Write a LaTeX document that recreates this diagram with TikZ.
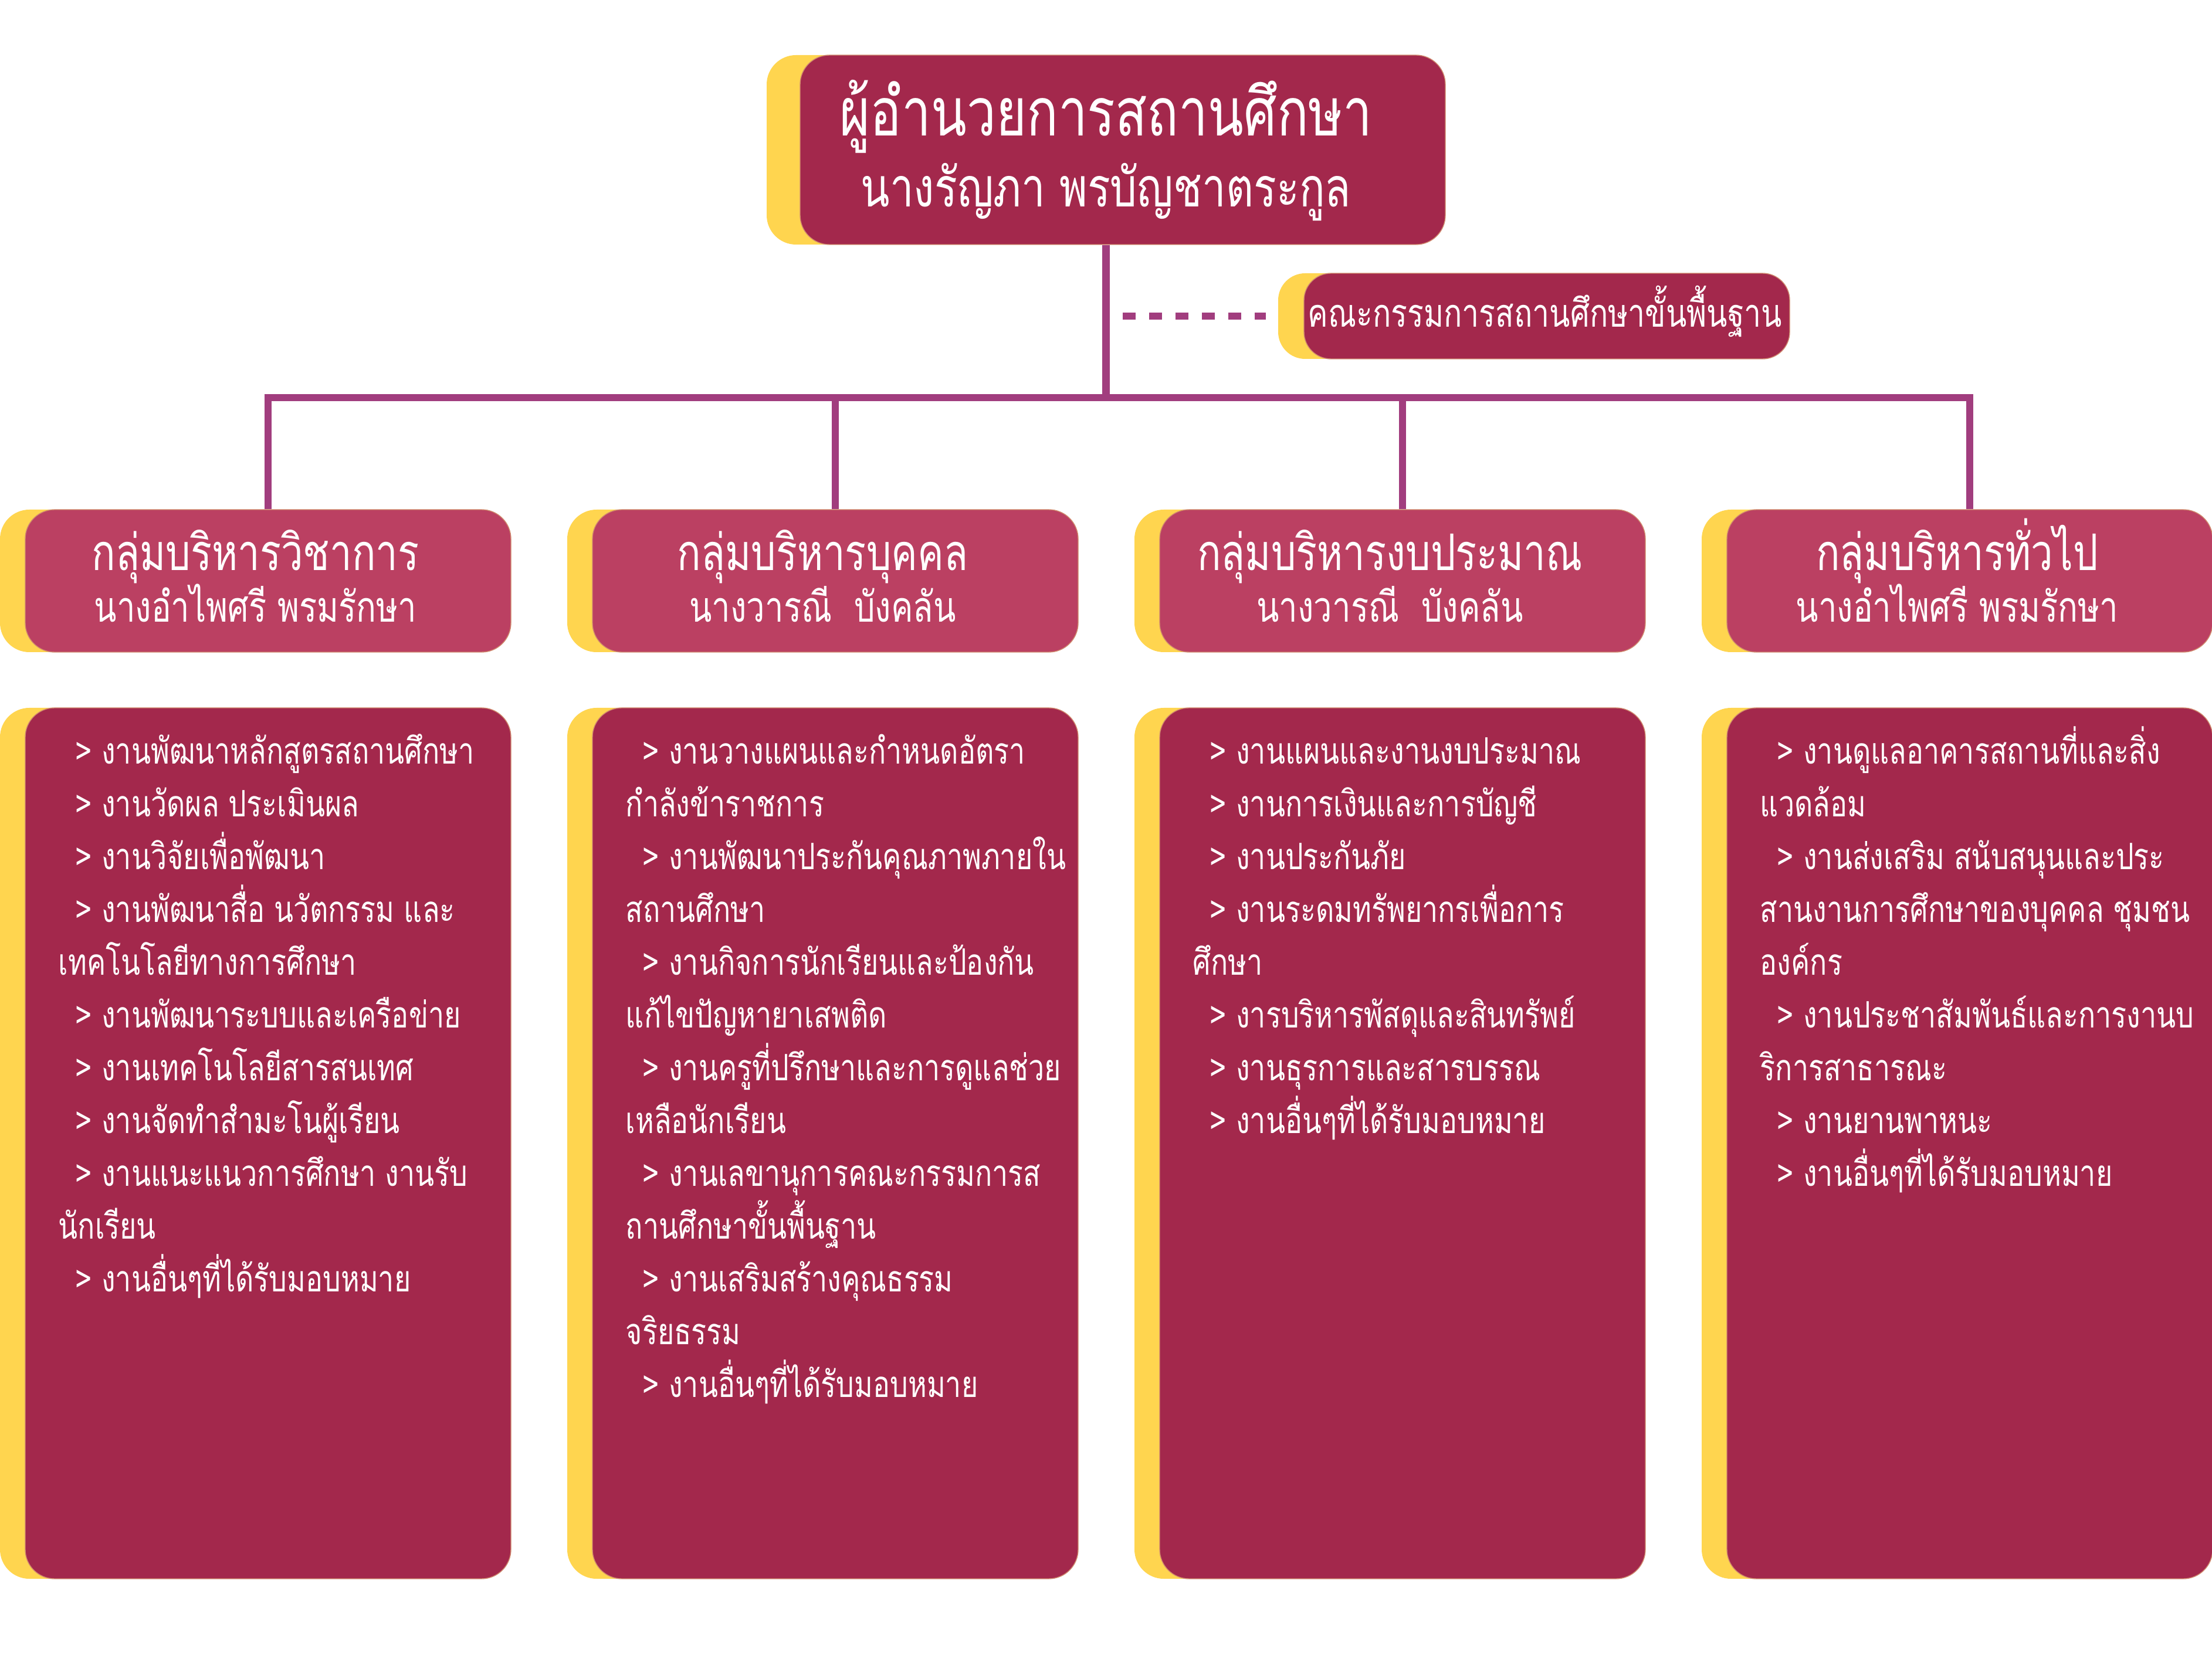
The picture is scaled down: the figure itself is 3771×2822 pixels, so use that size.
\documentclass[tikz,border=0pt]{standalone}
\usepackage{fontspec}
\newfontfamily\thai[Script=Thai,FakeStretch=0.78]{Loma}
\definecolor{wine}{HTML}{A3284C}
\definecolor{rose}{HTML}{BB4062}
\definecolor{gold}{HTML}{FFD54F}
\definecolor{plum}{HTML}{A13D7E}
\definecolor{edge}{HTML}{D08A6E}
\newcommand\gtitem{\hspace*{7.25pt}>\ }
\begin{document}
\begin{tikzpicture}[x=0.25pt,y=-0.25pt,
  ybox/.style={rectangle, rounded corners=12.5pt, fill=gold, draw=none, inner sep=0pt},
  mainbox/.style={rectangle, rounded corners=12.5pt, fill=wine, draw=edge, line width=0.35pt, inner sep=0pt},
  headbox/.style={mainbox, fill=rose},
  conn/.style={draw=plum, line width=3.15pt},
  dashline/.style={draw=plum, line width=2.9pt, dash pattern=on 5.5pt off 5.75pt},
  txt/.style={text=white, inner sep=0pt},
  bodytxt/.style={txt, anchor=north west, align=left, font=\thai\fontsize{15.5}{22.5}\selectfont},
  headA/.style={txt, anchor=base, font=\thai\fontsize{21.5}{24}\selectfont},
  headB/.style={txt, anchor=base, font=\thai\fontsize{18}{20}\selectfont}
]
\useasboundingbox (0,0) rectangle (3771,2822);

% top box
\node[ybox, minimum width=289.25pt, minimum height=80.75pt] (topY) at (1885.5,255.5) {};
\node[mainbox, minimum width=275pt, minimum height=80.75pt] (topM) at (1914,255.5) {};
\node[txt, anchor=base, font=\thai\fontsize{28.5}{30}\selectfont] (topT1) at (1885.5,232) {ผู้อำนวยการสถานศึกษา};
\node[txt, anchor=base, font=\thai\fontsize{23.2}{26}\selectfont] (topT2) at (1885.5,353) {นางรัญภา พรบัญชาตระกูล};

% committee
\node[ybox, rounded corners=11.5pt, minimum width=218pt, minimum height=36.5pt] (comY) at (2615,539) {};
\node[mainbox, rounded corners=11.5pt, minimum width=207pt, minimum height=36.5pt] (comM) at (2637,539) {};
\node[txt, anchor=base, font=\thai\fontsize{16.6}{18}\selectfont] (comT) at (2634,558) {คณะกรรมการสถานศึกษาขั้นพื้นฐาน};

% headers and content boxes
\foreach \i/\L/\a/\b in {1/0/กลุ่มบริหารวิชาการ/นางอำไพศรี พรมรักษา,
                         2/967/กลุ่มบริหารบุคคล/นางวารณี\ \ บังคลัน,
                         3/1934/กลุ่มบริหารงบประมาณ/นางวารณี\ \ บังคลัน,
                         4/2901/กลุ่มบริหารทั่วไป/นางอำไพศรี พรมรักษา}{
  \node[ybox, minimum width=217.75pt, minimum height=60.75pt] (hY\i) at (\L+435.5,990.5) {};
  \node[headbox, minimum width=207pt, minimum height=60.75pt] (hM\i) at (\L+457,990.5) {};
  \node[headA] (hA\i) at (\L+435.5,973) {\a};
  \node[headB] (hB\i) at (\L+435.5,1061) {\b};
  \node[ybox, minimum width=217.75pt, minimum height=371.25pt] (cY\i) at (\L+435.5,1949.5) {};
  \node[mainbox, minimum width=207pt, minimum height=371.25pt] (cM\i) at (\L+457,1949.5) {};
}

% content texts
\node[bodytxt] (t1) at (99,1222) {\rule{0pt}{20pt}\gtitem งานพัฒนาหลักสูตรสถานศึกษา\\
\gtitem งานวัดผล ประเมินผล\\
\gtitem งานวิจัยเพื่อพัฒนา\\
\gtitem งานพัฒนาสื่อ นวัตกรรม และ\\
เทคโนโลยีทางการศึกษา\\
\gtitem งานพัฒนาระบบและเครือข่าย\\
\gtitem งานเทคโนโลยีสารสนเทศ\\
\gtitem งานจัดทำสำมะโนผู้เรียน\\
\gtitem งานแนะแนวการศึกษา งานรับ\\
นักเรียน\\
\gtitem งานอื่นๆที่ได้รับมอบหมาย};

\node[bodytxt] (t2) at (1066,1222) {\rule{0pt}{20pt}\gtitem งานวางแผนและกำหนดอัตรา\\
กำลังข้าราชการ\\
\gtitem งานพัฒนาประกันคุณภาพภายใน\\
สถานศึกษา\\
\gtitem งานกิจการนักเรียนและป้องกัน\\
แก้ไขปัญหายาเสพติด\\
\gtitem งานครูที่ปรึกษาและการดูแลช่วย\\
เหลือนักเรียน\\
\gtitem งานเลขานุการคณะกรรมการส\\
ถานศึกษาขั้นพื้นฐาน\\
\gtitem งานเสริมสร้างคุณธรรม\\
จริยธรรม\\
\gtitem งานอื่นๆที่ได้รับมอบหมาย};

\node[bodytxt] (t3) at (2033,1222) {\rule{0pt}{20pt}\gtitem งานแผนและงานงบประมาณ\\
\gtitem งานการเงินและการบัญชี\\
\gtitem งานประกันภัย\\
\gtitem งานระดมทรัพยากรเพื่อการ\\
ศึกษา\\
\gtitem งารบริหารพัสดุและสินทรัพย์\\
\gtitem งานธุรการและสารบรรณ\\
\gtitem งานอื่นๆที่ได้รับมอบหมาย};

\node[bodytxt] (t4) at (3000,1222) {\rule{0pt}{20pt}\gtitem งานดูแลอาคารสถานที่และสิ่ง\\
แวดล้อม\\
\gtitem งานส่งเสริม สนับสนุนและประ\\
สานงานการศึกษาของบุคคล ชุมชน\\
องค์กร\\
\gtitem งานประชาสัมพันธ์และการงานบ\\
ริการสาธารณะ\\
\gtitem งานยานพาหนะ\\
\gtitem งานอื่นๆที่ได้รับมอบหมาย};

% connectors
\coordinate (busy) at (0,678);
\draw[conn] (topY.south) -- (topY.south |- busy);
\draw[conn] (hM1.north) |- (topY.south |- busy) -| (hM4.north);
\draw[conn] (hM2.north) -- (hM2.north |- busy);
\draw[conn] (hM3.north) -- (hM3.north |- busy);
\coordinate (dstart) at (1914,539);
\draw[dashline] (dstart) -- ([xshift=-5pt]comY.west);
\end{tikzpicture}
\end{document}
